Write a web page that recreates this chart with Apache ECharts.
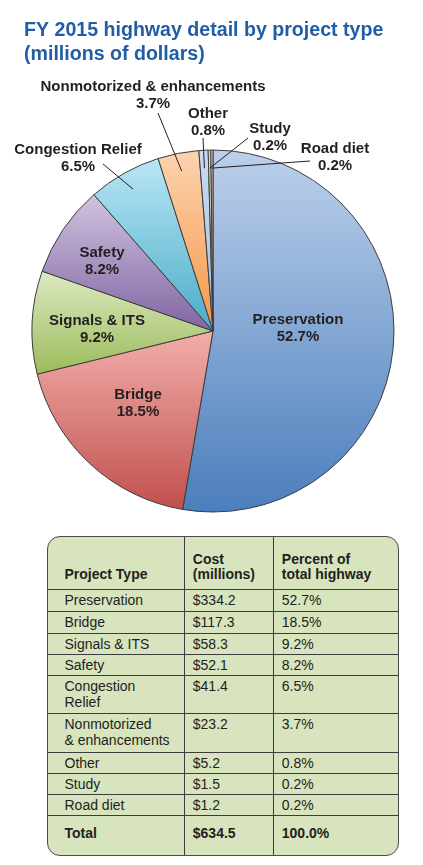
<!DOCTYPE html>
<html>
<head>
<meta charset="utf-8">
<script src="https://cdn.jsdelivr.net/npm/echarts@6/dist/echarts.min.js"></script>
<style>
html, body { margin: 0; padding: 0; background: #fff; }
#chart { position: absolute; left: 0; top: 0; width: 423px; height: 530px; }
#box {
	position: absolute; left: 47px; top: 536px; width: 352px; height: 320px;
	box-sizing: border-box; border: 1.5px solid #4b4b4b; border-radius: 13px;
	background: #d7e4bd; overflow: hidden;
	display: grid;
	grid-template-columns: 135.8px 89px auto;
	grid-template-rows: 51.5px 22.7px 21.6px 21px 21.4px 38.3px 38.3px 21px 21px 21.4px auto;
	font-family: 'Liberation Sans', Arial, sans-serif; font-size: 14px; line-height: 16px; color: #231f20;
}
#box div { box-sizing: border-box; padding: 2px 4px 0 8px; white-space: pre-line; }
#box div.c0 { padding-left: 16.5px; }
#box div.c1, #box div.c2 { border-left: 1.3px solid #3c3c3c; }
#box div.body, #box div.total { border-top: 1.3px solid #3c3c3c; }
#box div.head { font-weight: bold; line-height: 15px; display: flex; flex-direction: column; justify-content: flex-end; padding-bottom: 7px; }
#box div.total { font-weight: bold; padding-top: 8.5px; }
</style>
</head>
<body>
<div id="chart"></div>
<div id="box"></div>
<script>
// ---- data ----
var projectTypes = ['Preservation', 'Bridge', 'Signals & ITS', 'Safety', 'Congestion\nRelief',
	'Nonmotorized\n& enhancements', 'Other', 'Study', 'Road diet'];
var costs = [334.2, 117.3, 58.3, 52.1, 41.4, 23.2, 5.2, 1.5, 1.2];
var percents = ['52.7', '18.5', '9.2', '8.2', '6.5', '3.7', '0.8', '0.2', '0.2'];
var headers = ['Project Type', 'Cost\n(millions)', 'Percent of\ntotal highway'];
var totalRow = ['Total', '$634.5', '100.0%'];

// ---- styles / layout ----
var sliceColors = [
	['#bdd0ea', '#4a7ebd'],
	['#f3aeab', '#c0504d'],
	['#dde9c4', '#9bbb59'],
	['#d0c4e0', '#8064a2'],
	['#b8e6f6', '#4bacc6'],
	['#fcd4b0', '#f79646'],
	['#c9dbf2', '#a3bde0'],
	['#dbe6c2', '#b2c98a'],
	['#f3cbca', '#d99694']
];
var pieCenter = [213, 331];
var pieRadius = 181;
// label centre per slice
var labelSpots = [[298, 328], [138, 403], [97, 329], [102, 261], [78, 158],
	[153, 95], [208, 122], [270, 137], [335, 157]];
// where the leader line leaves the label (outside labels only)
var lineStarts = [null, null, null, null, [103, 164], [158, 113], [203, 138], [248, 138], [310, 161]];
var lineDepth = 0.9;

var labelFont = {
	color: '#231f20',
	fontFamily: 'Liberation Sans',
	fontWeight: 'bold',
	fontSize: 15,
	lineHeight: 17,
	formatter: function(p) {
		return p.name + '\n' + percents[p.dataIndex] + '%';
	}
};

function placeLabel(p) {
	var spot = labelSpots[p.dataIndex];
	var out = { x: spot[0], y: spot[1], align: 'center', verticalAlign: 'middle' };
	var start = lineStarts[p.dataIndex];
	if (start && p.labelLinePoints) {
		var e = p.labelLinePoints[0];
		var inner = [pieCenter[0] + (e[0] - pieCenter[0]) * lineDepth,
			pieCenter[1] + (e[1] - pieCenter[1]) * lineDepth];
		out.labelLinePoints = [inner, inner, start];
	}
	return out;
}

/*---pie---*/
var myChart = echarts.init(document.getElementById('chart'));
var pieData = [];
var overlayData = [];
for (var i = 0; i < costs.length; i++) {
	var inside = lineStarts[i] === null;
	var name = projectTypes[i].replace('\n', ' ');
	pieData.push({
		name: name,
		value: costs[i],
		itemStyle: {
			color: new echarts.graphic.LinearGradient(0, 0, 0, 1, [{
				offset: 0, color: sliceColors[i][0]
			}, {
				offset: 1, color: sliceColors[i][1]
			}])
		},
		label: { show: inside },
		labelLine: { show: false }
	});
	// transparent copy on top, carries the outside labels so their leader lines sit above the slices
	overlayData.push({
		name: name,
		value: costs[i],
		label: { show: !inside },
		labelLine: { show: !inside }
	});
}

var option = {
	animation: false,
	title: {
		text: 'FY 2015 highway detail by project type\n(millions of dollars)',
		left: 19,
		top: 14,
		textStyle: {
			fontFamily: 'Liberation Sans',
			fontWeight: 'bold',
			fontSize: 19.6,
			lineHeight: 23.7,
			color: '#1f5ea6'
		}
	},
	series: [{
		type: 'pie',
		z: 2,
		center: pieCenter,
		radius: pieRadius,
		startAngle: 90,
		clockwise: true,
		avoidLabelOverlap: false,
		silent: true,
		emphasis: { disabled: true },
		itemStyle: {
			borderColor: '#3d3d3d',
			borderWidth: 1
		},
		label: Object.assign({ position: 'inside' }, labelFont),
		labelLayout: placeLabel,
		data: pieData
	}, {
		type: 'pie',
		z: 3,
		center: pieCenter,
		radius: pieRadius,
		startAngle: 90,
		clockwise: true,
		avoidLabelOverlap: false,
		silent: true,
		emphasis: { disabled: true },
		itemStyle: {
			color: 'rgba(0,0,0,0)',
			borderWidth: 0
		},
		label: Object.assign({ position: 'outside' }, labelFont),
		labelLine: {
			lineStyle: { color: '#231f20', width: 1 }
		},
		labelLayout: placeLabel,
		data: overlayData
	}]
};
myChart.setOption(option);
/*---pie closed---*/

/*---table---*/
var box = document.getElementById('box');
function cell(text, cls) {
	var d = document.createElement('div');
	d.className = cls;
	d.textContent = text;
	box.appendChild(d);
}
for (var h = 0; h < headers.length; h++) {
	cell(headers[h], 'head c' + h);
}
for (var r = 0; r < projectTypes.length; r++) {
	cell(projectTypes[r], 'body c0');
	cell('$' + costs[r].toFixed(1), 'body c1');
	cell(percents[r] + '%', 'body c2');
}
for (var t = 0; t < totalRow.length; t++) {
	cell(totalRow[t], 'total c' + t);
}
/*---table closed---*/
</script>
</body>
</html>
